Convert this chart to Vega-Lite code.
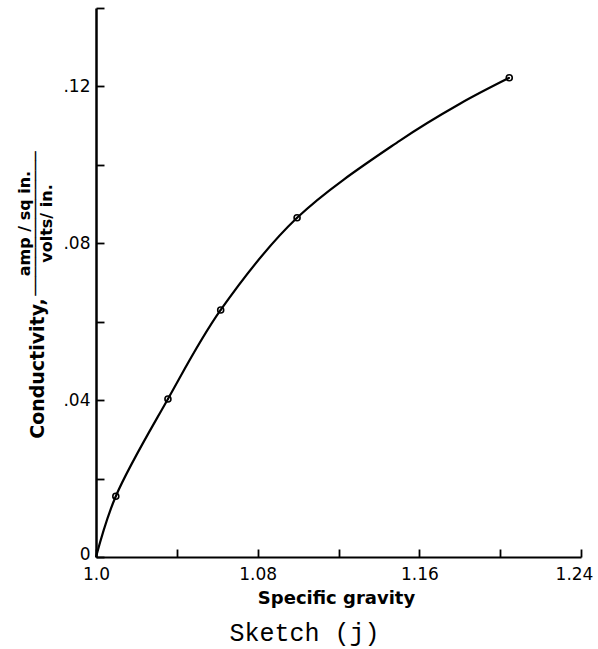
{
  "$schema": "https://vega.github.io/schema/vega-lite/v6.json",
  "width": 485,
  "height": 549,
  "autosize": {"type": "none"},
  "padding": {"left": 96, "top": 8, "right": 17, "bottom": 92},
  "background": "white",
  "config": {"view": {"stroke": null}, "font": "DejaVu Sans"},
  "title": {"text": "Sketch (j)", "orient": "bottom", "anchor": "middle", "dx": -34, "offset": 14, "font": "Liberation Mono", "fontSize": 25, "fontWeight": "normal", "color": "black"},
  "datasets": {
    "curve": [
      {"sg": 1.0, "cond": 0.0},
      {"sg": 1.0098, "cond": 0.0155},
      {"sg": 1.0356, "cond": 0.0403},
      {"sg": 1.0617, "cond": 0.063},
      {"sg": 1.0995, "cond": 0.0865},
      {"sg": 1.1504, "cond": 0.1062},
      {"sg": 1.1801, "cond": 0.1156},
      {"sg": 1.2045, "cond": 0.1222}
    ],
    "points": [
      {"sg": 1.0098, "cond": 0.0155},
      {"sg": 1.0356, "cond": 0.0403},
      {"sg": 1.0617, "cond": 0.063},
      {"sg": 1.0995, "cond": 0.0865},
      {"sg": 1.2045, "cond": 0.1222}
    ]
  },
  "layer": [
    {
      "data": {"name": "curve"},
      "mark": {"type": "line", "interpolate": "catmull-rom", "color": "black", "strokeWidth": 2.2},
      "encoding": {
        "x": {
          "field": "sg", "type": "quantitative",
          "scale": {"domain": [1.0, 1.24], "nice": false, "zero": false},
          "axis": {
            "values": [1.0, 1.04, 1.08, 1.12, 1.16, 1.2, 1.24],
            "labelExpr": "datum.value == 1 ? '1.0' : (abs((datum.value - 1) * 12.5 - round((datum.value - 1) * 12.5)) < 0.000001 ? format(datum.value, '.2f') : '')",
            "grid": false,
            "tickSize": -8, "tickWidth": 1.8, "tickColor": "black",
            "domainWidth": 2, "domainColor": "black",
            "labelPadding": 17, "labelFontSize": 17, "labelColor": "black", "labelFont": "DejaVu Sans",
            "labelOffset": {"condition": {"test": "datum.value > 1.23", "value": -7}, "value": 0},
            "labelFlush": false, "labelOverlap": false,
            "title": "Specific gravity",
            "titleX": 240, "titleY": 46, "titleAlign": "center", "titleBaseline": "alphabetic",
            "titleFontSize": 18, "titleFontWeight": "bold", "titleColor": "black", "titleFont": "DejaVu Sans"
          }
        },
        "y": {
          "field": "cond", "type": "quantitative",
          "scale": {"domain": [0, 0.14], "nice": false},
          "axis": {
            "values": [0, 0.02, 0.04, 0.06, 0.08, 0.1, 0.12, 0.14],
            "labelExpr": "datum.value == 0 ? '0' : (abs(datum.value * 25 - round(datum.value * 25)) < 0.000001 ? replace(format(datum.value, '.2f'), '0.', '.') : '')",
            "grid": false,
            "tickSize": -8, "tickWidth": 1.8, "tickColor": "black",
            "domainWidth": 2.5, "domainColor": "black",
            "labelPadding": 14, "labelFontSize": 17, "labelColor": "black", "labelFont": "DejaVu Sans",
            "labelOffset": {"condition": {"test": "datum.value == 0", "value": -3}, "value": 0},
            "labelFlush": false, "labelOverlap": false,
            "title": "Conductivity,",
            "titleX": -49, "titleY": 360, "titleAngle": -90, "titleAlign": "center", "titleBaseline": "bottom",
            "titleFontSize": 19, "titleFontWeight": "bold", "titleColor": "black", "titleFont": "DejaVu Sans"
          }
        }
      }
    },
    {
      "data": {"name": "points"},
      "mark": {"type": "point", "filled": false, "color": "black", "size": 36, "strokeWidth": 1.6, "opacity": 1},
      "encoding": {
        "x": {"field": "sg", "type": "quantitative"},
        "y": {
          "field": "cond", "type": "quantitative",
          "axis": {
            "orient": "left", "labels": false, "ticks": false, "domain": false, "grid": false,
            "title": ["amp / sq in.", "───────────────", "volts/ in."],
            "titleX": -72, "titleY": 215, "titleAngle": -90, "titleAlign": "center", "titleBaseline": "middle",
            "titleFontSize": 16, "titleFontWeight": "bold", "titleLineHeight": 11, "titleColor": "black", "titleFont": "DejaVu Sans"
          }
        }
      }
    },
    {
      "data": {"name": "points"},
      "mark": {"type": "point", "filled": true, "color": "black", "size": 3, "opacity": 1},
      "encoding": {
        "x": {"field": "sg", "type": "quantitative"},
        "y": {"field": "cond", "type": "quantitative", "axis": null}
      }
    }
  ],
  "resolve": {"axis": {"y": "independent"}}
}
